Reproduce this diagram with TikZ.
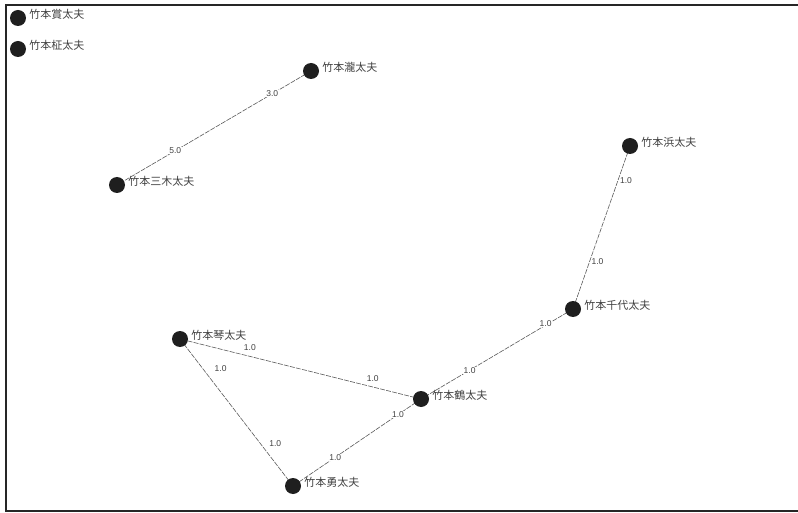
\documentclass[tikz,border=0pt]{standalone}
\usepackage{fontspec}
\setmainfont{Liberation Sans}
\newfontfamily\cjk{Noto Sans CJK JP}
\usetikzlibrary{backgrounds}
\begin{document}
\begin{tikzpicture}[x=1pt,y=-1pt,
  actor/.style={circle,fill=black!88,minimum size=16pt,inner sep=0pt},
  nm/.style={label distance=3pt,yshift=4pt,inner sep=0pt,text=black!75,font=\cjk\fontsize{11}{11}\selectfont},
  wl/.style={font=\fontsize{8.5}{9}\selectfont,text=black!75,fill=white,inner sep=0.6pt},
  tie/.style={draw=black!65,line width=0.6pt,dash pattern=on 5pt off 1.2pt},
  frame/.style={draw=black!85,line width=1.3pt}]
\useasboundingbox (0,0) rectangle (798,513);
\draw[frame] (798,5) -- (6,5) -- (6,511) -- (798,511);

\node[actor,label={[nm]right:竹本賞太夫}] (sho) at (18,18) {};
\node[actor,label={[nm]right:竹本柾太夫}] (masa) at (18,49) {};
\node[actor,label={[nm]right:竹本瀧太夫}] (taki) at (311,71) {};
\node[actor,label={[nm]right:竹本三木太夫}] (miki) at (117,185) {};
\node[actor,label={[nm]right:竹本浜太夫}] (hama) at (630,146) {};
\node[actor,label={[nm]right:竹本千代太夫}] (chiyo) at (573,309) {};
\node[actor,label={[nm]right:竹本琴太夫}] (koto) at (180,339) {};
\node[actor,label={[nm]right:竹本鶴太夫}] (tsuru) at (421,399) {};
\node[actor,label={[nm]right:竹本勇太夫}] (isamu) at (293,486) {};

\begin{scope}[on background layer]
\draw[tie] (taki.center) -- node[wl,pos=0.2]{3.0} node[wl,pos=0.7]{5.0} (miki.center);
\draw[tie] (hama.center) -- node[wl,pos=0.21,xshift=8pt]{1.0} node[wl,pos=0.71,xshift=8pt]{1.0} (chiyo.center);
\draw[tie] (chiyo.center) -- node[wl,pos=0.18,yshift=2pt]{1.0} node[wl,pos=0.68]{1.0} (tsuru.center);
\draw[tie] (tsuru.center) -- node[wl,pos=0.2,yshift=8pt]{1.0} node[wl,pos=0.71,yshift=9pt]{1.0} (koto.center);
\draw[tie] (koto.center) -- node[wl,pos=0.2,xshift=18pt]{1.0} node[wl,pos=0.71,xshift=15pt]{1.0} (isamu.center);
\draw[tie] (tsuru.center) -- node[wl,pos=0.18]{1.0} node[wl,pos=0.67]{1.0} (isamu.center);
\end{scope}
\end{tikzpicture}
\end{document}
